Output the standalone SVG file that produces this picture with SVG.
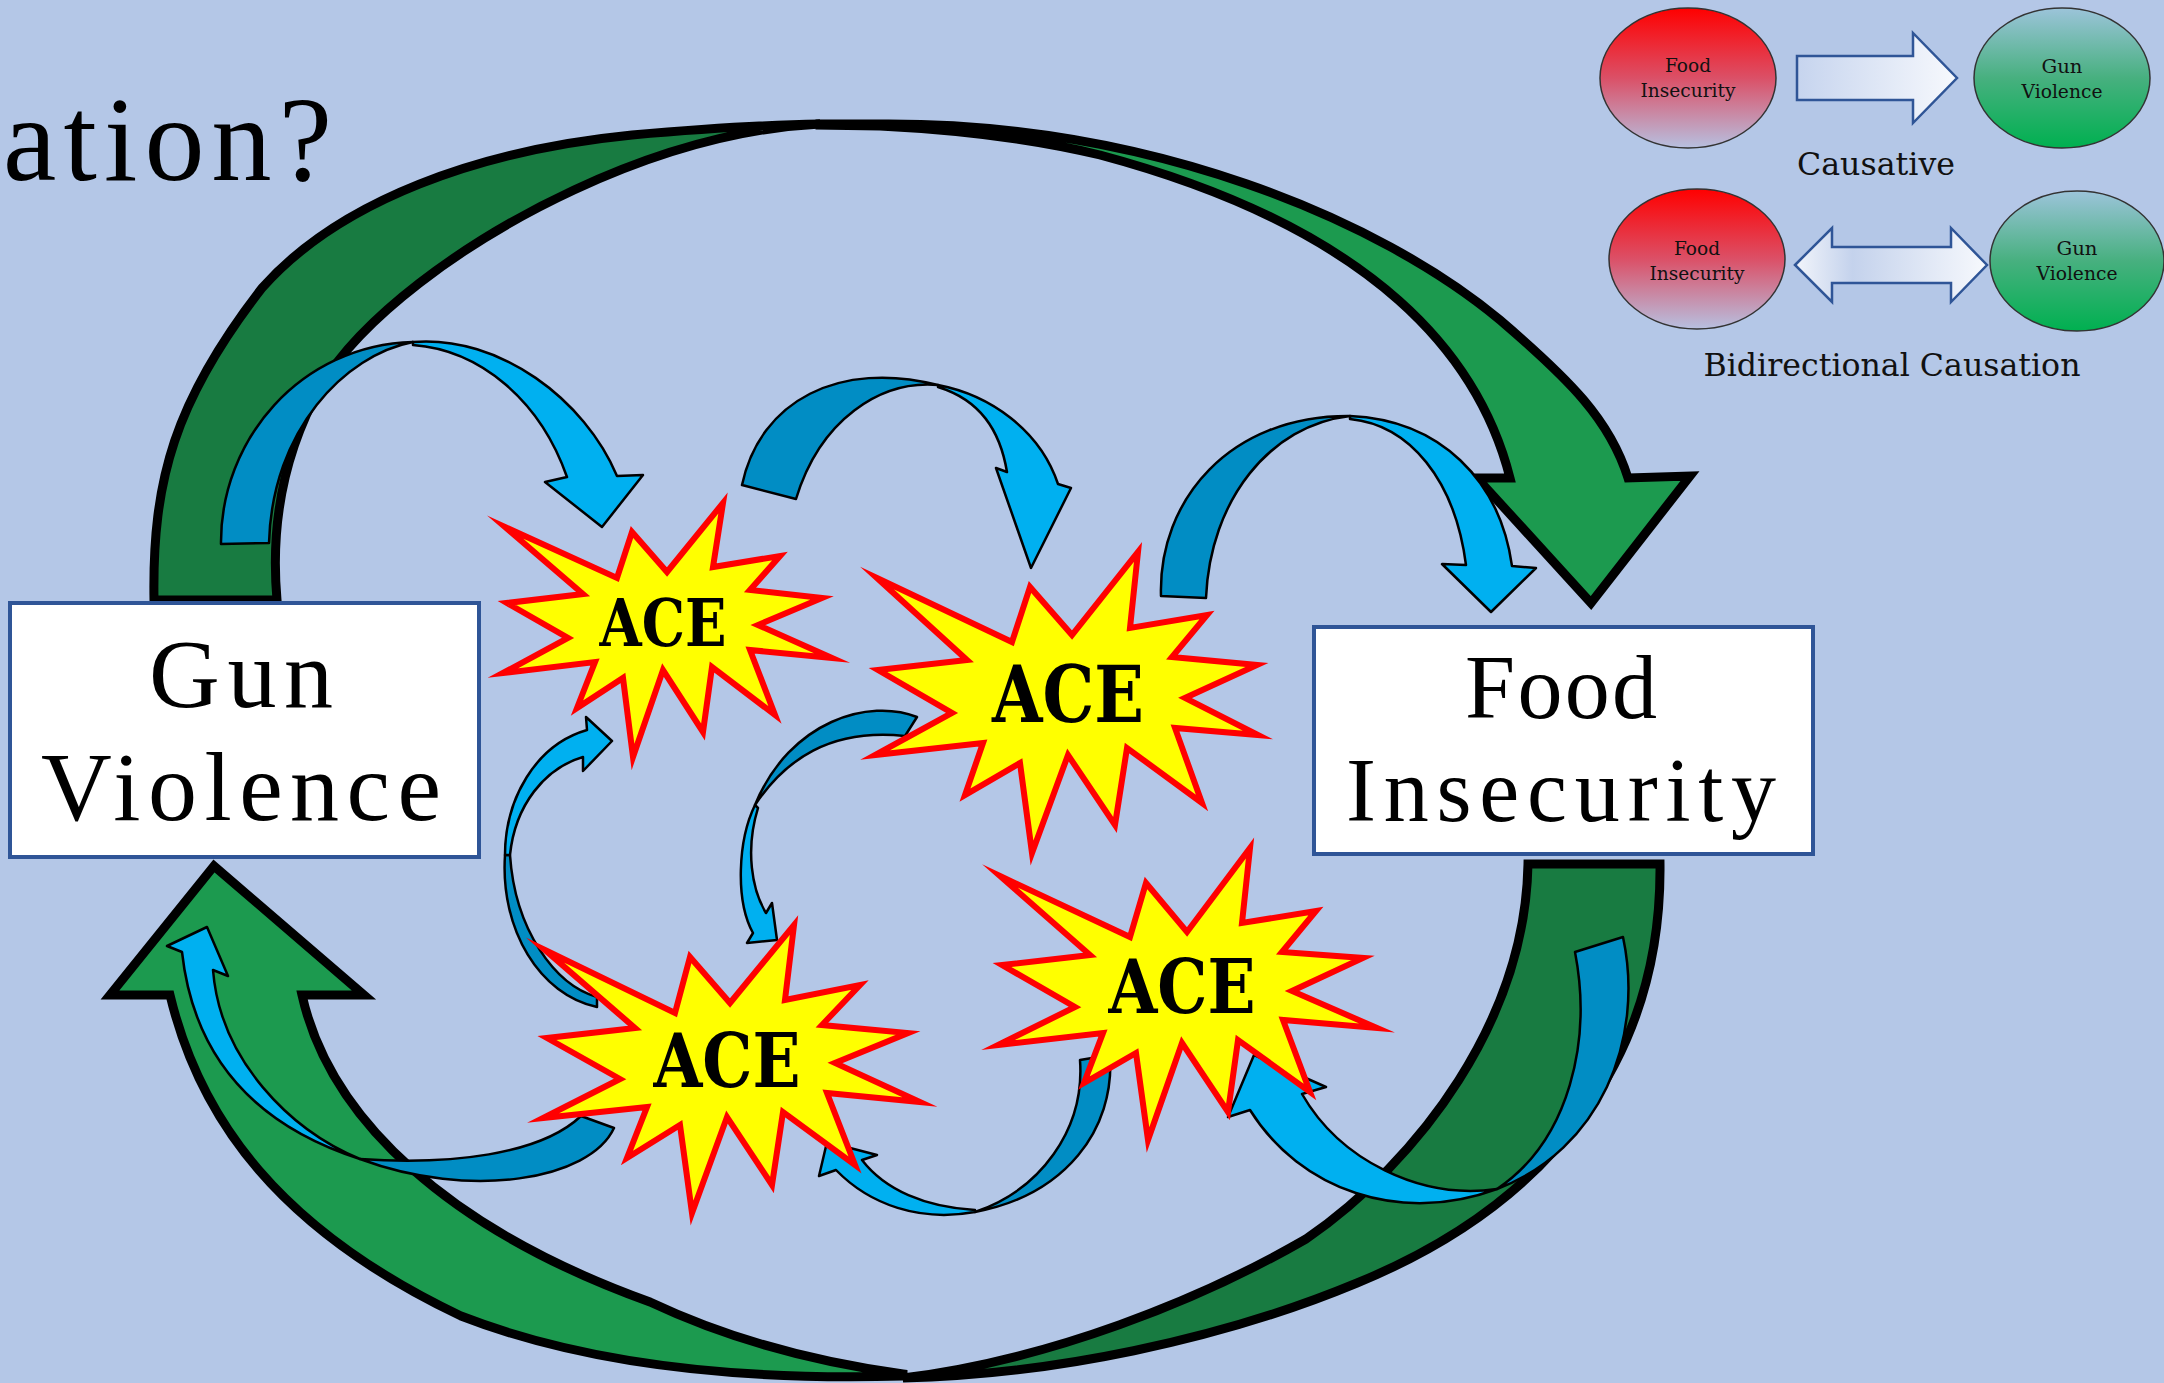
<svg xmlns="http://www.w3.org/2000/svg" width="2164" height="1383" viewBox="0 0 2164 1383">
<defs>
<linearGradient id="gRed" x1="0" y1="0" x2="0" y2="1"><stop offset="0" stop-color="#FF0000"/><stop offset="0.5" stop-color="#DB5067"/><stop offset="1" stop-color="#B7C0E0"/></linearGradient>
<linearGradient id="gGreen" x1="0" y1="0" x2="0" y2="1"><stop offset="0" stop-color="#9CC4DA"/><stop offset="0.5" stop-color="#47B07F"/><stop offset="1" stop-color="#00B050"/></linearGradient>
<linearGradient id="gArr" x1="0" y1="0" x2="1" y2="0"><stop offset="0" stop-color="#C6D4EE"/><stop offset="1" stop-color="#F7F9FD"/></linearGradient>
<linearGradient id="gArr2" x1="0" y1="0" x2="1" y2="0"><stop offset="0" stop-color="#F2F5FB"/><stop offset="0.3" stop-color="#C4D2EC"/><stop offset="1" stop-color="#F7F9FD"/></linearGradient>
</defs>
<style>
.gd{fill:#187B41;stroke:#000;stroke-width:9;stroke-linejoin:miter;stroke-miterlimit:10}
.gl{fill:#1C9A4F;stroke:#000;stroke-width:9;stroke-linejoin:miter;stroke-miterlimit:10}
.bd{fill:#018DC4;stroke:#000;stroke-width:2.5;stroke-linejoin:round}
.bl{fill:#00B0F0;stroke:#000;stroke-width:2.5;stroke-linejoin:round}
.star{fill:#FFFF00;stroke:#FF0000;stroke-width:6;stroke-linejoin:miter;stroke-miterlimit:10}
.ace{font-family:"DejaVu Serif",serif;font-weight:bold;fill:#000;text-anchor:middle}
.box{fill:#FFFFFF;stroke:#2F5597;stroke-width:4}
.big{font-family:"Liberation Serif","Times New Roman",serif;fill:#000;text-anchor:middle}
.leg{font-family:"DejaVu Serif",serif;fill:#111;text-anchor:middle}
.ell{stroke:#333;stroke-width:1.5}
.larr{stroke:#2F5597;stroke-width:2.5;stroke-linejoin:miter}
</style>
<rect x="0" y="0" width="2164" height="1383" fill="#B4C7E7"/>
<text x="3" y="180" font-family="'Liberation Serif','Times New Roman',serif" font-size="120" textLength="329" lengthAdjust="spacing" fill="#000">ation?</text>

<g id="legend">
<g id="legend-causative">
<ellipse class="ell" cx="1688" cy="78" rx="88" ry="70" fill="url(#gRed)"/>
<text class="leg" x="1688" y="72" font-size="19" textLength="46" lengthAdjust="spacingAndGlyphs">Food</text>
<text class="leg" x="1688" y="97" font-size="19" textLength="95" lengthAdjust="spacingAndGlyphs">Insecurity</text>
<polygon class="larr" fill="url(#gArr)" points="1797,56 1913,56 1913,33 1957,78 1913,123 1913,100 1797,100"/>
<ellipse class="ell" cx="2062" cy="78" rx="88" ry="70" fill="url(#gGreen)"/>
<text class="leg" x="2062" y="73" font-size="19" textLength="41" lengthAdjust="spacingAndGlyphs">Gun</text>
<text class="leg" x="2062" y="98" font-size="19" textLength="81" lengthAdjust="spacingAndGlyphs">Violence</text>
<text class="leg" x="1876" y="175" font-size="32" textLength="158" lengthAdjust="spacingAndGlyphs">Causative</text>
</g>
<g id="legend-bidirectional">
<ellipse class="ell" cx="1697" cy="259" rx="88" ry="70" fill="url(#gRed)"/>
<text class="leg" x="1697" y="255" font-size="19" textLength="46" lengthAdjust="spacingAndGlyphs">Food</text>
<text class="leg" x="1697" y="280" font-size="19" textLength="95" lengthAdjust="spacingAndGlyphs">Insecurity</text>
<polygon class="larr" fill="url(#gArr2)" points="1795,265 1832,228 1832,247 1951,247 1951,228 1987,265 1951,302 1951,283 1832,283 1832,302"/>
<ellipse class="ell" cx="2077" cy="261" rx="87" ry="70" fill="url(#gGreen)"/>
<text class="leg" x="2077" y="255" font-size="19" textLength="41" lengthAdjust="spacingAndGlyphs">Gun</text>
<text class="leg" x="2077" y="280" font-size="19" textLength="81" lengthAdjust="spacingAndGlyphs">Violence</text>
<text class="leg" x="1892" y="376" font-size="32" textLength="377" lengthAdjust="spacingAndGlyphs">Bidirectional Causation</text>
</g>
</g>

<g id="connectors">
<g id="green-top">
<path class="gd" d="M154,600 C152,480 175,400 262,288 C340,200 480,150 632,135 C700,129 760,125 820,124 C740,128 660,150 574,190 C460,243 360,320 321,386 C285,450 270,520 277,600 Z"/>
<path class="gl" d="M820,124 L880,124 C1150,122 1380,220 1500,320 C1570,380 1610,420 1628,478 L1690,476 L1591,603 L1477,478 L1510,478 C1480,360 1380,230 1100,155 C1030,138 960,130 880,126 L820,125 Z"/>
</g>
<g id="green-bottom">
<path class="gd" d="M1660,864 C1662,1050 1560,1200 1357,1283 C1220,1340 1050,1375 903,1378 C1050,1360 1200,1300 1306,1239 C1420,1160 1525,1020 1528,864 Z"/>
<path class="gl" d="M903,1376 C760,1380 600,1370 461,1316 C280,1230 200,1120 170,995 L110,995 L214,866 L364,995 L302,995 C330,1120 450,1230 650,1302 C720,1335 800,1360 903,1374 Z"/>
</g>
<g id="blue-a">
<path class="bd" d="M221,544 C220,440 300,345 413,342 C345,355 272,430 269,543 Z"/>
<path class="bl" d="M413,342 C500,335 585,400 617,476 L643,475 L602,527 L545,482 L567,477 C540,400 480,350 413,345 Z"/>
</g>
<g id="blue-b">
<path class="bd" d="M742,485 C760,400 840,360 938,385 C880,380 820,420 796,499 Z"/>
<path class="bl" d="M938,385 C990,395 1040,430 1058,484 L1071,488 L1031,568 L996,468 L1007,472 C1000,430 980,400 938,387 Z"/>
</g>
<g id="blue-c">
<path class="bd" d="M1161,596 C1158,500 1230,415 1350,416 C1270,425 1210,500 1206,598 Z"/>
<path class="bl" d="M1350,416 C1440,420 1500,480 1512,566 L1536,568 L1491,612 L1442,564 L1466,565 C1455,480 1410,425 1350,419 Z"/>
</g>
<g id="blue-d">
<path class="bd" d="M505,855 C500,930 540,995 597,1007 L597,997 C555,985 515,930 510,855 Z"/>
<path class="bl" d="M505,855 C505,800 535,745 587,730 L586,717 L612,741 L583,771 L583,757 C545,768 515,805 510,855 Z"/>
</g>
<g id="blue-e">
<path class="bd" d="M917,717 C870,698 790,720 755,805 C785,760 830,728 905,736 Z"/>
<path class="bl" d="M755,805 C738,840 735,900 753,933 L747,943 L777,940 L772,903 L766,913 C752,890 745,850 758,808 Z"/>
</g>
<g id="blue-f">
<path class="bd" d="M614,1128 C590,1180 470,1200 360,1159 C450,1165 540,1155 581,1116 Z"/>
<path class="bl" d="M360,1159 C270,1130 195,1070 182,952 L167,946 L207,927 L228,976 L213,970 C220,1060 290,1130 360,1159 Z"/>
</g>
<g id="blue-g">
<path class="bd" d="M1110,1055 C1115,1130 1065,1195 975,1212 C1040,1190 1085,1130 1080,1060 Z"/>
<path class="bl" d="M975,1212 C920,1222 870,1205 836,1170 L819,1176 L827,1142 L877,1155 L862,1160 C885,1190 925,1207 975,1210 Z"/>
</g>
<g id="blue-h">
<path class="bd" d="M1623,937 C1645,1040 1600,1150 1497,1189 C1570,1140 1592,1040 1575,952 Z"/>
<path class="bl" d="M1497,1189 C1400,1225 1300,1190 1250,1110 L1228,1117 L1254,1055 L1326,1087 L1302,1094 C1340,1160 1420,1200 1497,1189 Z"/>
</g>
</g>

<g id="gun-violence">
<rect class="box" x="10" y="603" width="469" height="254"/>
<text class="big" x="241" y="707" font-size="98" textLength="184" lengthAdjust="spacing">Gun</text>
<text class="big" x="241" y="820" font-size="98" textLength="400" lengthAdjust="spacing">Violence</text>
</g>
<g id="food-insecurity">
<rect class="box" x="1314" y="627" width="499" height="227"/>
<text class="big" x="1561" y="718" font-size="90" textLength="192" lengthAdjust="spacing">Food</text>
<text class="big" x="1561" y="821" font-size="90" textLength="430" lengthAdjust="spacing">Insecurity</text>
</g>

<g id="ace-1">
<polygon class="star" points="505,527 617,578 632,532 667,572 723,503 713,567 780,556 750,590 822,598 758,625 832,658 750,650 775,715 712,667 703,732 663,670 633,757 623,678 577,708 595,662 503,673 568,638 507,603 583,594"/>
<text class="ace" x="663" y="646" font-size="66" textLength="127" lengthAdjust="spacingAndGlyphs">ACE</text>
</g>
<g id="ace-2">
<polygon class="star" points="877,578 1012,642 1030,587 1072,635 1138,552 1130,628 1207,615 1172,657 1257,665 1185,698 1258,735 1175,728 1202,803 1127,748 1115,825 1068,755 1032,853 1020,763 965,795 983,743 875,755 952,713 878,670 967,660"/>
<text class="ace" x="1068" y="722" font-size="78" textLength="152" lengthAdjust="spacingAndGlyphs">ACE</text>
</g>
<g id="ace-3">
<polygon class="star" points="545,950 675,1013 690,957 730,1003 794,925 785,1000 860,985 822,1025 908,1033 835,1063 920,1102 827,1093 855,1165 783,1112 772,1185 727,1117 692,1213 680,1125 627,1158 647,1107 543,1118 620,1079 547,1038 635,1028"/>
<text class="ace" x="727" y="1087" font-size="74" textLength="147" lengthAdjust="spacingAndGlyphs">ACE</text>
</g>
<g id="ace-4">
<polygon class="star" points="1000,876 1130,937 1146,883 1187,932 1250,848 1242,923 1316,911 1282,952 1363,958 1292,991 1377,1028 1283,1020 1310,1092 1238,1040 1228,1112 1182,1043 1148,1140 1136,1053 1084,1083 1103,1033 998,1045 1075,1007 1002,965 1090,955"/>
<text class="ace" x="1182" y="1013" font-size="74" textLength="147" lengthAdjust="spacingAndGlyphs">ACE</text>
</g>
</svg>
